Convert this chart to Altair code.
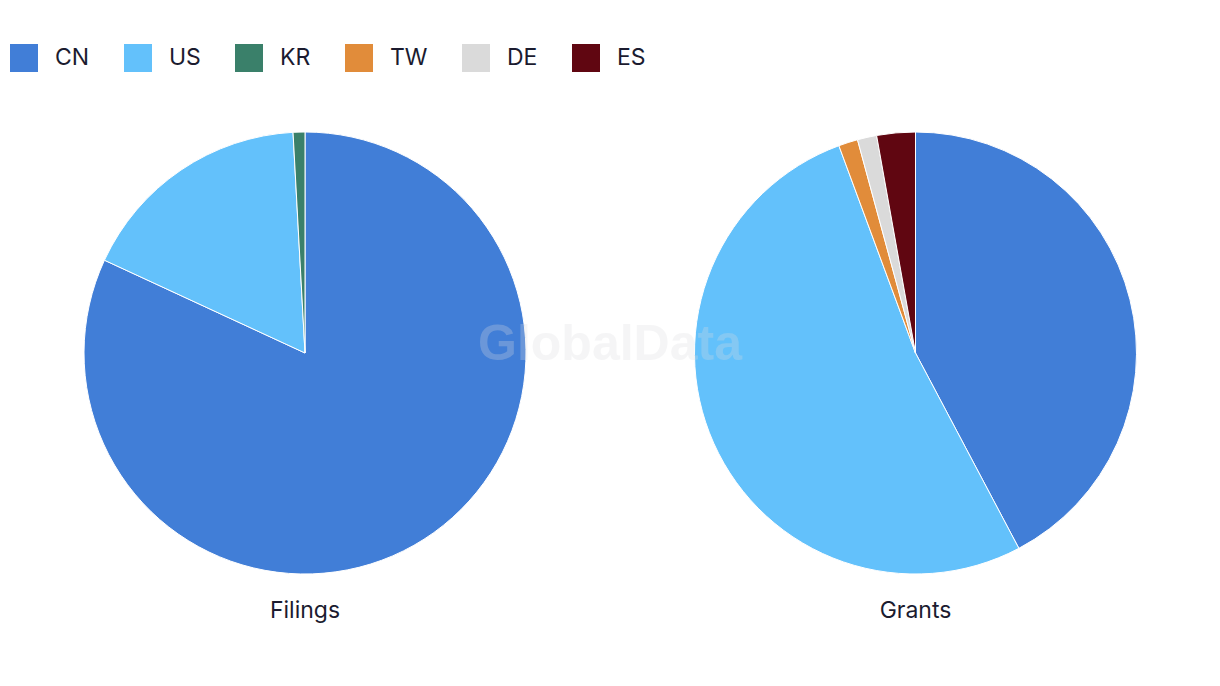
import altair as alt
import pandas as pd

countries = ["CN", "US", "KR", "TW", "DE", "ES"]
colors = ["#417ed7", "#63c1fb", "#3a806a", "#e18c3a", "#dadada", "#600611"]

filings_countries = ["CN", "US", "KR"]
filings_values = [95, 20, 1]

grants_countries = ["CN", "US", "TW", "DE", "ES"]
grants_values = [30, 37, 1, 1, 2]

panel_titles = ["Filings", "Grants"]

def frame(cs, vs):
    return pd.DataFrame({
        "country": cs,
        "value": vs,
        "order": [countries.index(c) for c in cs],
    })

df_f = frame(filings_countries, filings_values)
df_g = frame(grants_countries, grants_values)

FONT = "Inter"
TEXT_COLOR = "#1b1b2f"

color_scale = alt.Scale(domain=countries, range=colors)

def pie(df, cx, show_legend):
    enc = dict(
        theta=alt.Theta("value:Q", stack=True),
        order=alt.Order("order:Q"),
        x=alt.value(cx), y=alt.value(345),
    )
    if show_legend:
        legend = alt.Legend(
            title=None, orient="none", legendX=2, legendY=36, direction="horizontal",
            symbolType="square", symbolSize=784, symbolStrokeWidth=0,
            labelFont=FONT, labelFontSize=23, labelColor=TEXT_COLOR,
            labelOffset=17, columnPadding=34, padding=0,
        )
        enc["color"] = alt.Color("country:N", scale=color_scale, legend=legend)
    else:
        enc["color"] = alt.Color("country:N", scale=color_scale)
    return alt.Chart(df).mark_arc(
        outerRadius=221, stroke="white", strokeWidth=1
    ).encode(**enc)

titles_df = pd.DataFrame({"label": panel_titles, "pos": [0, 1]})
titles = alt.Chart(titles_df).mark_text(
    font=FONT, fontSize=23, color=TEXT_COLOR, baseline="middle", align="center"
).encode(
    x=alt.X("pos:Q", scale=alt.Scale(domain=[0, 1], range=[297, 907.5]), axis=None),
    y=alt.value(603),
    text="label:N",
)

wm = alt.Chart(pd.DataFrame({"t": ["GlobalData"]})).mark_text(
    font="Liberation Sans", fontWeight="bold", fontSize=50,
    color="#dcdde0", opacity=0.27, align="center", baseline="middle"
).encode(x=alt.value(602), y=alt.value(337), text="t:N")

chart = alt.layer(
    pie(df_f, 297, True), pie(df_g, 907.5, False), titles, wm
).resolve_scale(theta="independent").properties(
    width=1204, height=670, padding=0, autosize=alt.AutoSizeParams(type="none")
).configure(background="white", view=alt.ViewConfig(stroke=None))

chart.save("out.html", embed_options={"renderer": "svg", "actions": False})
